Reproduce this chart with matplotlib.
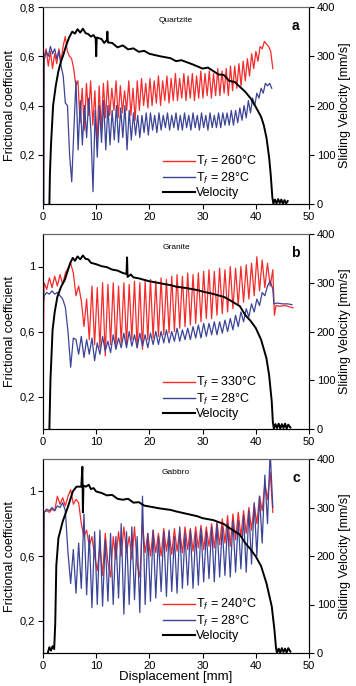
import numpy as np
import matplotlib
matplotlib.use("Agg")
import matplotlib.pyplot as plt
from matplotlib.lines import Line2D

plt.rcParams['font.family'] = ['Liberation Sans', 'DejaVu Sans']
plt.rcParams['mathtext.fontset'] = 'custom'
plt.rcParams['mathtext.rm'] = 'Liberation Sans'
plt.rcParams['mathtext.it'] = 'Liberation Sans:italic'

RED = '#f52a2a'
BLUE = '#3b4496'

# ---------------- Panel a: Quartzite ----------------
a_title = "Quartzite"
a_red_label = "260°C"
a_red_start = [0.1, 0.0]
a_red_range = [0.2, 43.2]
a_red = [0.60, 0.63, 0.56, 0.62, 0.55, 0.61, 0.57, 0.63, 0.58, 0.64, 0.68, 0.62, 0.60, 0.59, 0.55, 0.48,
         0.50, 0.33, 0.47, 0.30, 0.49, 0.36, 0.50, 0.32, 0.46, 0.24, 0.48, 0.30, 0.49, 0.35, 0.50, 0.36,
         0.47, 0.38, 0.50, 0.35, 0.48, 0.37, 0.46, 0.38, 0.50, 0.36, 0.47, 0.34, 0.50, 0.38, 0.51, 0.40,
         0.49, 0.39, 0.51, 0.40, 0.50, 0.41, 0.52, 0.40, 0.50, 0.42, 0.52, 0.41, 0.51, 0.42, 0.53, 0.42,
         0.51, 0.43, 0.53, 0.42, 0.52, 0.43, 0.53, 0.42, 0.52, 0.43, 0.54, 0.43, 0.53, 0.44, 0.54, 0.43,
         0.53, 0.44, 0.55, 0.44, 0.54, 0.45, 0.55, 0.44, 0.56, 0.46, 0.56, 0.47, 0.57, 0.48, 0.58, 0.50,
         0.59, 0.52, 0.61, 0.55, 0.62, 0.58, 0.64, 0.63, 0.66, 0.65, 0.64, 0.62, 0.55]
a_blue_start = [0.15, 0.0]
a_blue_range = [0.2, 43.0]
a_blue = [0.58, 0.62, 0.60, 0.64, 0.61, 0.63, 0.59, 0.62, 0.56, 0.52, 0.41, 0.40, 0.20, 0.09, 0.30, 0.50,
          0.22, 0.42, 0.24, 0.40, 0.27, 0.43, 0.30, 0.05, 0.38, 0.19, 0.40, 0.25, 0.42, 0.22, 0.40, 0.24,
          0.38, 0.26, 0.40, 0.25, 0.39, 0.27, 0.40, 0.22, 0.38, 0.26, 0.37, 0.28, 0.36, 0.27, 0.36, 0.29,
          0.37, 0.28, 0.37, 0.30, 0.36, 0.29, 0.37, 0.30, 0.36, 0.31, 0.37, 0.30, 0.36, 0.31, 0.37, 0.30,
          0.36, 0.30, 0.37, 0.31, 0.36, 0.30, 0.37, 0.31, 0.36, 0.30, 0.37, 0.31, 0.36, 0.30, 0.37, 0.31,
          0.36, 0.31, 0.37, 0.31, 0.37, 0.32, 0.37, 0.32, 0.38, 0.32, 0.38, 0.33, 0.39, 0.34, 0.40, 0.35,
          0.42, 0.37, 0.43, 0.40, 0.45, 0.43, 0.47, 0.45, 0.49, 0.48, 0.49, 0.47]
a_vel_x = [1.2, 1.3, 1.5, 1.9, 2.4, 2.9, 3.4, 3.8, 4.3, 4.9, 5.5, 6.0, 6.5, 7.0, 7.5, 8.0, 8.5, 9.0, 9.5,
           9.9, 10.0, 10.1, 11.0, 11.5, 12.0, 12.1, 12.2, 13, 14, 15, 16, 17, 18, 19, 20, 22, 24, 25, 26, 28,
           30, 31, 33, 34, 35, 36, 37, 38, 39, 40, 41, 41.5, 42, 42.5, 42.8, 43.1, 43.3,
           43.6, 43.9, 44.2, 44.5, 44.8, 45.1, 45.4, 45.7, 46.0]
a_vel = [0, 60, 120, 200, 240, 270, 290, 302, 320, 338, 350, 346, 355, 348, 356, 347, 345, 340, 343,
         336, 300, 338, 335, 327, 333, 350, 328, 327, 318, 322, 314, 316, 309, 311, 305, 300, 296, 290, 292, 284,
         275, 277, 263, 262, 250, 248, 238, 228, 215, 197, 177, 160, 135, 95, 60, 15, 0,
         9, 1, 10, 2, 9, 0, 8, 1, 6]

# ---------------- Panel b: Granite ----------------
b_title = "Granite"
b_red_label = "330°C"
b_red_start = [0.0, 0.30]
b_red_range = [0.2, 43.2]
b_red = [0.90, 0.86, 0.93, 0.87, 0.94, 0.88, 0.95, 0.89, 0.96, 0.99, 1.02, 0.96, 0.82, 0.88, 0.79, 0.63,
         0.80, 0.55, 0.88, 0.52, 0.87, 0.50, 0.90, 0.45, 0.89, 0.52, 0.90, 0.50, 0.88, 0.53, 0.90, 0.52,
         0.89, 0.55, 0.91, 0.50, 0.90, 0.49, 0.91, 0.55, 0.92, 0.56, 0.91, 0.57, 0.93, 0.58, 0.92, 0.59,
         0.94, 0.60, 0.95, 0.62, 0.94, 0.63, 0.96, 0.64, 0.95, 0.65, 0.96, 0.66, 0.97, 0.68, 0.98, 0.68,
         0.97, 0.70, 0.99, 0.71, 0.98, 0.72, 1.00, 0.74, 0.99, 0.76, 1.00, 0.78, 1.01, 0.80, 1.02, 0.82,
         1.06, 0.85, 1.04, 0.87, 1.02, 0.88, 0.98]
b_red_tail_x = [43.5, 43.8, 44.5, 45.5, 46.5, 47.0]
b_red_tail = [0.70, 0.76, 0.755, 0.76, 0.75, 0.745]
b_blue_start = [0.1, 0.78]
b_blue_range = [0.2, 43.2]
b_blue = [0.82, 0.84, 0.83, 0.85, 0.83, 0.84, 0.82, 0.80, 0.75, 0.60, 0.38, 0.56, 0.55, 0.46, 0.57, 0.44,
          0.55, 0.46, 0.56, 0.42, 0.53, 0.46, 0.57, 0.48, 0.54, 0.47, 0.58, 0.49, 0.56, 0.50, 0.59, 0.50,
          0.60, 0.51, 0.58, 0.50, 0.59, 0.51, 0.58, 0.50, 0.59, 0.52, 0.60, 0.52, 0.60, 0.53, 0.61, 0.53,
          0.60, 0.54, 0.62, 0.54, 0.61, 0.55, 0.62, 0.55, 0.63, 0.56, 0.64, 0.56, 0.65, 0.57, 0.65, 0.58,
          0.66, 0.58, 0.66, 0.59, 0.67, 0.60, 0.68, 0.61, 0.70, 0.63, 0.72, 0.66, 0.74, 0.69, 0.77, 0.72,
          0.80, 0.76, 0.84, 0.82, 0.88, 0.91, 0.86]
b_blue_tail_x = [43.4, 44.0, 45.0, 46.0, 46.8]
b_blue_tail = [0.77, 0.775, 0.77, 0.77, 0.765]
b_vel_x = [1.2, 1.4, 1.8, 2.2, 2.7, 3.4, 4.1, 5.1, 5.6, 6.0, 6.5, 7.0, 7.5, 8.0, 8.5, 9, 10, 11, 12, 13, 14,
           15, 15.7, 15.8, 15.9, 16.5, 17, 18, 19, 20, 22, 24, 25, 27, 29, 30, 32, 34, 35, 37, 38, 39, 40, 41,
           42, 42.5, 43, 43.2, 43.4,
           43.7, 44.0, 44.3, 44.6, 44.9, 45.2, 45.5, 45.8, 46.1, 46.5]
b_vel = [0, 100, 203, 240, 271, 292, 306, 340, 351, 345, 354, 348, 356, 349, 348, 341, 338, 334, 332, 327, 325,
         320, 318, 352, 312, 317, 311, 309, 306, 303, 299, 295, 292, 289, 285, 282, 277, 271, 265, 252, 234, 222, 207, 183,
         145, 111, 56, 15, 0,
         10, 2, 11, 1, 10, 2, 11, 1, 9, 3]

# ---------------- Panel c: Gabbro ----------------
c_title = "Gabbro"
c_red_label = "240°C"
c_red_start = [0.05, 0.0]
c_red_range = [0.2, 43.2]
c_red = [0.87, 0.88, 0.87, 0.89, 0.88, 0.97, 0.92, 0.96, 0.91, 0.97, 1.01, 0.92, 0.95, 0.93, 0.80, 0.72,
         0.76, 0.66, 0.72, 0.60, 0.51, 0.66, 0.48, 0.74, 0.56, 0.47, 0.72, 0.58, 0.75, 0.60, 0.78, 0.62,
         0.72, 0.58, 0.78, 0.55, 0.47, 0.80, 0.62, 0.74, 0.60, 0.76, 0.62, 0.74, 0.60, 0.77, 0.63, 0.75,
         0.61, 0.77, 0.63, 0.76, 0.62, 0.78, 0.64, 0.77, 0.63, 0.78, 0.65, 0.79, 0.64, 0.78, 0.66, 0.80,
         0.65, 0.81, 0.67, 0.83, 0.68, 0.85, 0.66, 0.86, 0.70, 0.87, 0.72, 0.88, 0.74, 0.90, 0.76, 0.92,
         0.80, 0.97, 0.88, 1.05, 0.95, 1.12, 0.87]
c_blue_start = [0.1, 0.0]
c_blue_range = [0.2, 43.2]
c_blue = [0.87, 0.89, 0.88, 0.90, 0.88, 0.91, 0.90, 0.93, 0.88, 0.62, 0.43, 0.64, 0.37, 0.68, 0.40, 0.86,
          0.36, 0.73, 0.28, 0.75, 0.30, 0.76, 0.29, 0.70, 0.32, 0.74, 0.30, 0.72, 0.34, 0.80, 0.24, 0.75,
          0.30, 0.78, 0.33, 0.72, 0.25, 0.97, 0.30, 0.74, 0.32, 0.76, 0.34, 0.72, 0.38, 0.75, 0.35, 0.76,
          0.38, 0.72, 0.37, 0.78, 0.40, 0.74, 0.42, 0.76, 0.40, 0.74, 0.42, 0.77, 0.44, 0.75, 0.46, 0.78,
          0.44, 0.80, 0.47, 0.78, 0.48, 0.80, 0.47, 0.82, 0.50, 0.82, 0.52, 0.85, 0.50, 0.88, 0.55, 0.93,
          0.60, 0.97, 0.68, 1.10, 0.80, 1.25, 0.90]
c_vel_x = [0.9, 1.2, 1.5, 1.8, 2.1, 2.3, 2.5, 2.9, 3.7, 4.8, 5.6, 6.3, 7.2, 7.4, 7.5, 7.6, 8.1, 8.6, 9, 9.5,
           10, 11, 12, 13, 14, 15, 16, 17, 18, 19, 20, 22, 24, 25, 27, 29, 30, 32, 34, 35, 37, 38, 39, 40, 41,
           42, 43, 43.5, 43.8, 44.0,
           44.3, 44.6, 44.9, 45.2, 45.5, 45.8, 46.1, 46.5]
c_vel = [0, 12, 5, 14, 8, 60, 180, 237, 271, 305, 333, 343, 343, 384, 290, 345, 343, 347, 338, 340,
         333, 330, 325, 326, 318, 316, 318, 310, 311, 304, 302, 298, 295, 292, 287, 282, 278, 274, 266, 258, 244,
         227, 214, 199, 179, 144, 96, 48, 10, 0,
         9, 1, 10, 2, 9, 1, 10, 3]

cold_label = "28°C"
left_ticks_a = [0.2, 0.4, 0.6, 0.8]
left_ticklabels_a = ["0,2", "0,4", "0,6", "0,8"]
left_ticks_bc = [0.2, 0.6, 1.0]
left_ticklabels_bc = ["0,2", "0,6", "1"]
x_ticks = [0, 10, 20, 30, 40, 50]
vel_ticks = [0, 100, 200, 300, 400]

W, H = 356, 686
fig = plt.figure(figsize=(W / 100, H / 100), dpi=100)

panels = [
    dict(top=7, bot=204, title=a_title, letter='a', ylim=(0, 0.8), yt=left_ticks_a, ytl=left_ticklabels_a,
         red=(a_red_start, a_red_range, a_red, [], []), blue=(a_blue_start, a_blue_range, a_blue, [], []),
         vel=(a_vel_x, a_vel), rlab=a_red_label, leg_y=-0.02),
    dict(top=234, bot=429, title=b_title, letter='b', ylim=(0, 1.2), yt=left_ticks_bc, ytl=left_ticklabels_bc,
         red=(b_red_start, b_red_range, b_red, b_red_tail_x, b_red_tail),
         blue=(b_blue_start, b_blue_range, b_blue, b_blue_tail_x, b_blue_tail),
         vel=(b_vel_x, b_vel), rlab=b_red_label, leg_y=0.0),
    dict(top=459, bot=653, title=c_title, letter='c', ylim=(0, 1.2), yt=left_ticks_bc, ytl=left_ticklabels_bc,
         red=(c_red_start, c_red_range, c_red, [], []), blue=(c_blue_start, c_blue_range, c_blue, [], []),
         vel=(c_vel_x, c_vel), rlab=c_red_label, leg_y=0.01),
]

L, R = 43, 309
for i, p in enumerate(panels):
    ax = fig.add_axes([L / W, 1 - p['bot'] / H, (R - L) / W, (p['bot'] - p['top']) / H])
    ax2 = ax.twinx()

    def series(spec):
        start, rng, vals, tx, ty = spec
        x = np.r_[start[0], np.linspace(rng[0], rng[1], len(vals)), tx]
        y = np.r_[start[1], vals, ty]
        return x, y

    xr, yr = series(p['red'])
    xb, yb = series(p['blue'])
    ax.plot(xr, yr, color=RED, lw=0.9)
    ax.plot(xb, yb, color=BLUE, lw=0.9)
    ax2.plot(p['vel'][0], p['vel'][1], color='black', lw=1.4)

    ax.set_xlim(0, 50)
    ax.set_ylim(*p['ylim'])
    ax2.set_ylim(0, 400)
    ax.set_xticks(x_ticks)
    ax.set_yticks(p['yt'])
    ax.set_yticklabels(p['ytl'])
    ax2.set_yticks(vel_ticks)
    for a in (ax, ax2):
        a.tick_params(direction='out', length=3.5, width=0.8, labelsize=8, pad=2)
        for s in a.spines.values():
            s.set_linewidth(0.8)
    ax.spines['top'].set_color('#666666')
    ax2.spines['top'].set_color('#666666')
    ax.set_ylabel("Frictional coefficient", fontsize=9, labelpad=3)
    ax2.set_ylabel("Sliding Velocity [mm/s]", fontsize=9, labelpad=3)
    if i == 2:
        ax.set_xlabel("Displacement [mm]", fontsize=9.5, labelpad=0)

    ax.text(0.5, 0.95, p['title'], transform=ax.transAxes, ha='center', va='top', fontsize=6)
    ax.text(0.965, 0.94, p['letter'], transform=ax.transAxes, ha='right', va='top', fontsize=10,
            fontweight='bold')

    handles = [Line2D([], [], color=RED, lw=1.0), Line2D([], [], color=BLUE, lw=1.0),
               Line2D([], [], color='black', lw=1.5)]
    labels = [r"T$_{\mathit{f}}$ = " + p['rlab'], r"T$_{\mathit{f}}$ = " + cold_label, "Velocity"]
    ax2.legend(handles, labels, loc='lower left', bbox_to_anchor=(0.42, p['leg_y']), frameon=False,
               fontsize=9, handlelength=2.5, handletextpad=0.1, labelspacing=0.12, borderpad=0.2)

fig.savefig("out.png", dpi=100)
